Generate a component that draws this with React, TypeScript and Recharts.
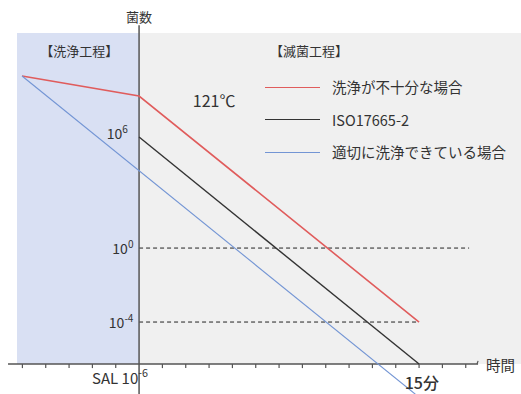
import {
  ComposedChart,
  Line,
  XAxis,
  YAxis,
  ReferenceArea,
  ReferenceLine,
  ReferenceDot,
  Legend,
} from 'recharts';

// x: minutes from start of sterilisation, y: log10 of bacteria count
const redTime = [-6.27, 0, 15];
const redLog = [9.3, 8.22, -4];
const blackTime = [0, 15];
const blackLog = [6, -6.27];
const blueTime = [-6.27, 14.8];
const blueLog = [9.3, -7.9];

const seriesNames = ['洗浄が不十分な場合', 'ISO17665-2', '適切に洗浄できている場合'];
const seriesColors = ['#e05c5c', '#333333', '#7395d4'];

const xTicks = [
  -6.25, -5, -3.75, -2.5, -1.25, 1.25, 2.5, 3.75, 5, 6.25, 7.5, 8.75, 10, 11.25, 12.5, 13.75, 15,
  16.25, 17.5,
];

const X_DOMAIN: [number, number] = [-7.45, 20.46];
const Y_DOMAIN: [number, number] = [-7.89, 13.41];
const AXIS_LEVEL = -6.27; // where the time axis sits (SAL 10^-6)
const TOP_LEVEL = 11.62;
const TEXT = '#333333';
const FONT = '"Noto Sans CJK JP", "Noto Sans", sans-serif';

const toPoints = (ts: number[], vs: number[]) => ts.map((t, i) => ({ t, v: vs[i] }));

const redData = toPoints(redTime, redLog);
const blackData = toPoints(blackTime, blackLog);
const blueData = toPoints(blueTime, blueLog);

type Lbl = {
  x: number;
  y: number;
  text: string;
  sup?: string;
  anchor?: 'start' | 'middle' | 'end';
  size?: number;
  weight?: number;
};

const labels: Lbl[] = [
  { x: 0, y: 12.55, text: '菌数', anchor: 'middle', size: 13 },
  { x: -5.3, y: 10.7, text: '【洗浄工程】', size: 13 },
  { x: 7.02, y: 10.7, text: '【滅菌工程】', size: 13 },
  { x: 4.02, y: 8.0, text: '121℃', anchor: 'middle', size: 16 },
  { x: -0.6, y: 6.2, text: '10', sup: '6', anchor: 'end', size: 14 },
  { x: -0.3, y: 0, text: '10', sup: '0', anchor: 'end', size: 14 },
  { x: -0.3, y: -4, text: '10', sup: '-4', anchor: 'end', size: 14 },
  { x: -2.52, y: -6.97, text: 'SAL 10', sup: '-6', size: 15 },
  { x: 15.15, y: -7.24, text: '15分', anchor: 'middle', size: 16, weight: 500 },
  { x: 18.59, y: -6.27, text: '時間', size: 14.5 },
];

function makeText(l: Lbl) {
  return (p: { cx?: number; cy?: number }) => (
    <text
      x={p.cx}
      y={p.cy}
      textAnchor={l.anchor ?? 'start'}
      dominantBaseline="central"
      fontSize={l.size ?? 13}
      fontWeight={l.weight ?? 400}
      fill={TEXT}
      fontFamily={FONT}
    >
      <tspan>{l.text}</tspan>
      {l.sup && (
        <tspan dy={-5} fontSize={(l.size ?? 13) * 0.72}>
          {l.sup}
        </tspan>
      )}
    </text>
  );
}

// own legend rows so the order stays as in the picture
function LegendBox() {
  return (
    <div style={{ fontFamily: FONT, color: TEXT }}>
      {seriesNames.map((name, i) => (
        <div key={name} style={{ display: 'flex', alignItems: 'center', height: 32.5 }}>
          <span style={{ width: 55, height: 0, borderTop: `1px solid ${seriesColors[i]}`, marginRight: 12 }} />
          <span style={{ fontSize: 14.5, lineHeight: '16px' }}>{name}</span>
        </div>
      ))}
    </div>
  );
}

export default function App() {
  return (
    <div style={{ position: 'absolute', left: 0, top: 0, background: '#fff' }}>
      <style>{'body{margin:0}'}</style>
      <ComposedChart width={521} height={394} margin={{ top: 0, right: 0, bottom: 0, left: 0 }}>
        <XAxis type="number" dataKey="t" domain={X_DOMAIN} allowDataOverflow hide />
        <YAxis type="number" dataKey="v" domain={Y_DOMAIN} allowDataOverflow hide />

        <ReferenceArea x1={-6.54} x2={0} y1={AXIS_LEVEL} y2={TOP_LEVEL} fill="#d9e0f3" fillOpacity={1} stroke="none" ifOverflow="visible" />
        <ReferenceArea x1={0} x2={X_DOMAIN[1]} y1={AXIS_LEVEL} y2={TOP_LEVEL} fill="#f0f0f0" fillOpacity={1} stroke="none" ifOverflow="visible" />

        <ReferenceLine segment={[{ x: 0, y: 0 }, { x: 17.68, y: 0 }]} stroke="#222" strokeDasharray="4 3" ifOverflow="visible" />
        <ReferenceLine segment={[{ x: 0, y: -4 }, { x: 15, y: -4 }]} stroke="#222" strokeDasharray="4 3" ifOverflow="visible" />

        {/* axes drawn by hand so they can cross inside the plot */}
        <ReferenceLine segment={[{ x: -7.02, y: AXIS_LEVEL }, { x: 18.16, y: AXIS_LEVEL }]} stroke="#555" strokeWidth={1.5} ifOverflow="visible" />
        <ReferenceLine segment={[{ x: 18.1, y: AXIS_LEVEL }, { x: 18.16, y: -6.1 }]} stroke="#555" strokeWidth={1.2} ifOverflow="visible" />
        <ReferenceLine segment={[{ x: 0, y: 12.05 }, { x: 0, y: Y_DOMAIN[0] }]} stroke="#555" strokeWidth={1.5} ifOverflow="visible" />
        {xTicks.map((t) => (
          <ReferenceLine key={t} segment={[{ x: t, y: AXIS_LEVEL }, { x: t, y: -6.49 }]} stroke="#555" strokeWidth={1.2} ifOverflow="visible" />
        ))}

        <Line data={redData} dataKey="v" name={seriesNames[0]} type="linear" stroke={seriesColors[0]} strokeWidth={1.6} dot={false} activeDot={false} isAnimationActive={false} />
        <Line data={blackData} dataKey="v" name={seriesNames[1]} type="linear" stroke={seriesColors[1]} strokeWidth={1.4} dot={false} activeDot={false} isAnimationActive={false} />
        <Line data={blueData} dataKey="v" name={seriesNames[2]} type="linear" stroke={seriesColors[2]} strokeWidth={1.1} dot={false} activeDot={false} isAnimationActive={false} />

        {labels.map((l) => (
          <ReferenceDot key={l.text + (l.sup ?? '')} x={l.x} y={l.y} r={0} ifOverflow="visible" shape={makeText(l)} />
        ))}

        <Legend
          layout="vertical"
          align="center"
          verticalAlign="middle"
          content={<LegendBox />}
          wrapperStyle={{ left: 265, top: 71, width: 256, bottom: 'auto' }}
        />
      </ComposedChart>
    </div>
  );
}
